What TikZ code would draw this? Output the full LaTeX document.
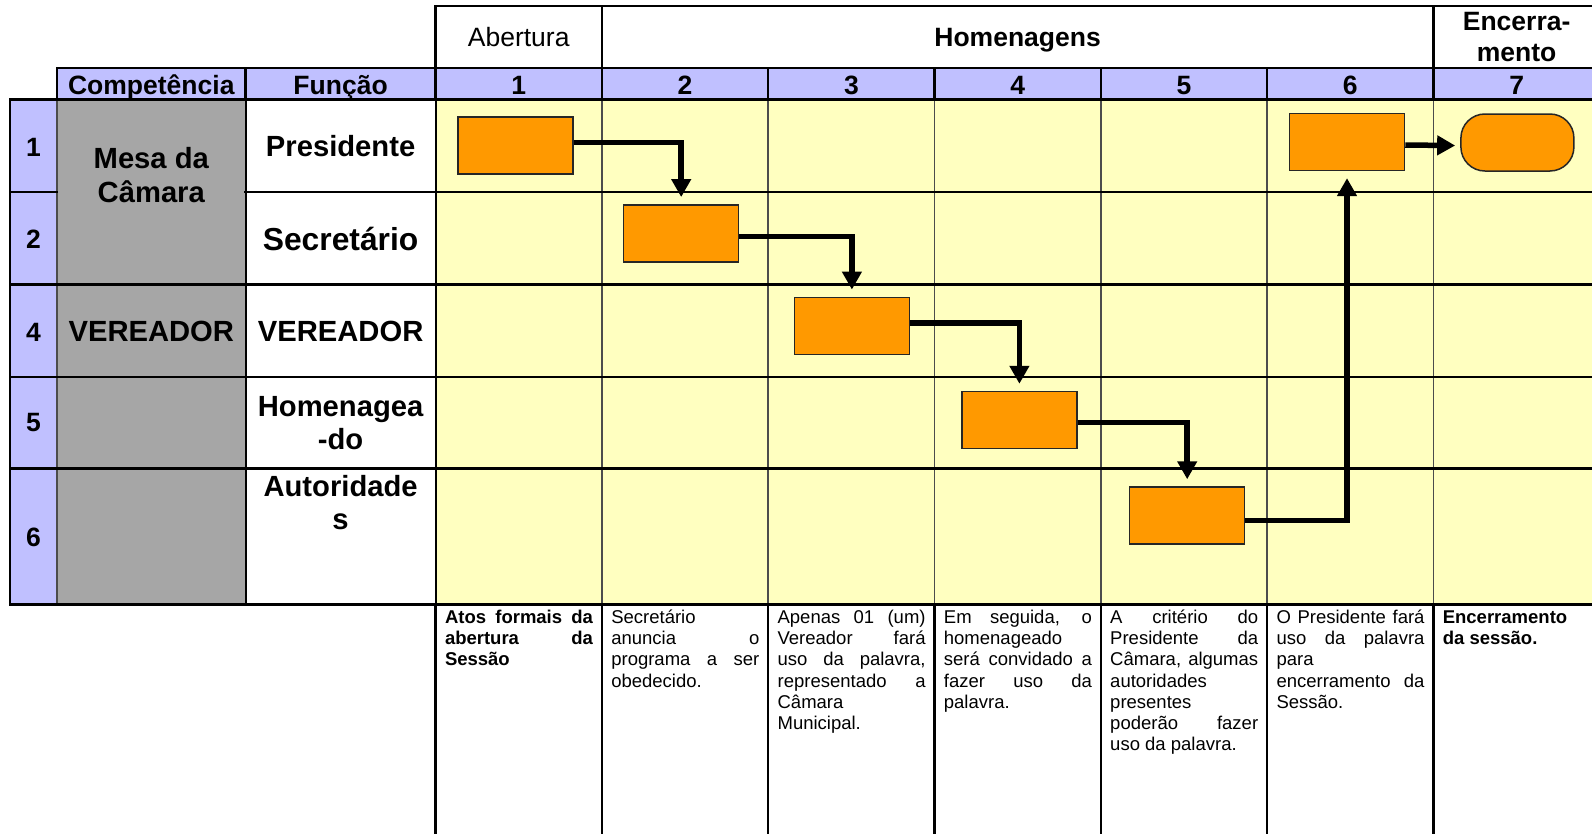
\documentclass[tikz,border=0pt]{standalone}
\usepackage{fontspec}
\setmainfont{Liberation Sans}
\usetikzlibrary{arrows.meta}
\definecolor{laranja}{HTML}{FF9900}
\definecolor{amarelo}{HTML}{FFFFC0}
\definecolor{lilas}{HTML}{C0C0FF}
\definecolor{cinza}{HTML}{A6A6A6}
\newcommand{\capstrut}{\rule{0pt}{1em}}
\tolerance=10000
\hbadness=10000
\hyphenpenalty=10000
\begin{document}
\begin{tikzpicture}[x=1pt, y=-1pt]
	\tikzset{
	>={Triangle[length=18pt, width=19pt]}, % solid arrow heads
	every node/.style={inner sep=0pt},
	tarefa/.style={draw=black!85, line width=1.5pt, fill=laranja, minimum width=115pt, minimum height=57pt}, % orange task boxes
	fluxo/.style={->, line width=5.5pt, shorten >=7pt},
	grade/.style={line width=2.5pt, line cap=rect},
	fina/.style={line width=1.5pt, draw=black!70},
	cab/.style={font=\bfseries\fontsize{26.5}{31}\selectfont, anchor=base},
	func/.style={font=\bfseries\fontsize{29.2}{33.4}\selectfont, anchor=base},
	desc/.style={font=\fontsize{18.5}{21.2}\selectfont, text width=148pt, align=justify, anchor=north west}
	}
	\clip (0,0) rectangle (1592,833);
	% cell fills
	\fill[lilas] (56.9,68.1) rectangle (1600,99.6);
	\fill[lilas] (10.2,99.6) rectangle (56.9,604.5);
	\fill[cinza] (56.9,99.6) rectangle (245.7,604.5);
	\fill[amarelo] (435.6,99.6) rectangle (1600,604.5);

	% body lines
	\draw[fina] (56.9,99.6) -- (56.9,604.5);
	\draw[fina] (601.9,99.6) -- (601.9,604.5) (768.2,99.6) -- (768.2,604.5) (934.5,99.6) -- (934.5,604.5)
	      (1100.8,99.6) -- (1100.8,604.5) (1267.1,99.6) -- (1267.1,604.5) (1433.4,99.6) -- (1433.4,604.5);
	\draw[grade] (10.2,99.6) -- (10.2,604.5);
	\draw[grade, line width=2pt] (245.7,99.6) -- (245.7,604.5) (435.6,99.6) -- (435.6,604.5);
	\draw[grade] (10.2,192) -- (56.9,192) (245.7,192) -- (1600,192);
	\draw[grade] (10.2,284.5) -- (1600,284.5);
	\draw[grade] (10.2,376.9) -- (1600,376.9);
	\draw[grade] (10.2,468.3) -- (1600,468.3);

	% header lines
	\draw[grade] (435.6,6.1) -- (1600,6.1);
	\draw[grade] (56.9,68.1) -- (1600,68.1);
	\draw[grade] (10.2,99.6) -- (1600,99.6);
	\draw[grade] (435.6,6.1) -- (435.6,99.6) (601.9,6.1) -- (601.9,99.6) (1433.4,6.1) -- (1433.4,99.6);
	\draw[grade] (56.9,68.1) -- (56.9,99.6) (245.7,68.1) -- (245.7,99.6) (768.2,68.1) -- (768.2,99.6)
	      (934.5,68.1) -- (934.5,99.6) (1100.8,68.1) -- (1100.8,99.6) (1267.1,68.1) -- (1267.1,99.6);

	% description lines
	\draw[grade] (10.2,604.5) -- (1600,604.5);
	\draw[grade] (435.6,604.5) -- (435.6,840) (601.9,604.5) -- (601.9,840) (768.2,604.5) -- (768.2,840)
	      (934.5,604.5) -- (934.5,840) (1100.8,604.5) -- (1100.8,840) (1267.1,604.5) -- (1267.1,840)
	      (1433.4,604.5) -- (1433.4,840);

	% top headers
	\node[cab, font=\fontsize{26.5}{31}\selectfont] (abertura) at (518.7,46.7) {Abertura};
	\node[cab] (homenagens) at (1017.6,46.7) {Homenagens};
	\node[cab, align=center, anchor=north] (encerramento) at (1516.6,4.2) {\capstrut Encerra-\\mento};
	\node[cab] (competencia) at (151.3,94) {Competência};
	\node[cab] (funcao) at (340.6,94) {Função};
	\node[cab] (c1) at (518.7,94) {1};
	\node[cab] (c2) at (685.1,94) {2};
	\node[cab] (c3) at (851.4,94) {3};
	\node[cab] (c4) at (1017.7,94) {4};
	\node[cab] (c5) at (1184,94) {5};
	\node[cab] (c6) at (1350.3,94) {6};
	\node[cab] (c7) at (1516.6,94) {7};

	% lanes
	\node[cab] (l1) at (33.5,156.7) {1};
	\node[cab] (l2) at (33.5,248.3) {2};
	\node[cab] (l4) at (33.5,341.7) {4};
	\node[cab] (l5) at (33.5,431.7) {5};
	\node[cab] (l6) at (33.5,546.7) {6};
	\node[func, align=center, anchor=north, font=\bfseries\fontsize{29.2}{34.4}\selectfont] (mesa) at (151.3,139.1) {\capstrut Mesa da\\Câmara};
	\node[func] (presidente) at (340.6,156.7) {Presidente};
	\node[func, font=\bfseries\fontsize{31.8}{36}\selectfont] (secretario) at (340.6,250) {Secretário};
	\node[func] (vereadorc) at (151.3,341.7) {VEREADOR};
	\node[func] (vereador) at (340.6,341.7) {VEREADOR};
	\node[func, align=center, anchor=north] (homenageado) at (340.6,386.8) {\capstrut Homenagea\\-do};
	\node[func, align=center, anchor=north] (autoridades) at (340.6,466.8) {\capstrut Autoridade\\s};

	% flow
	\node[tarefa] (t1) at (515.5,145.5) {};
	\node[tarefa] (t2) at (681.2,233.3) {};
	\node[tarefa] (t3) at (851.9,325.8) {};
	\node[tarefa] (t4) at (1019.4,420) {};
	\node[tarefa] (t5) at (1187.2,515.5) {};
	\node[tarefa] (t6) at (1347,141.9) {};
	\node[tarefa, rounded corners=24pt, minimum width=113pt] (fim) at (1517.4,142.5) {};
	\draw[fluxo] ([yshift=3.2pt]t1.east) -| (t2.north);
	\draw[fluxo] ([yshift=-3.4pt]t2.east) -| (t3.north);
	\draw[fluxo] ([yshift=2.7pt]t3.east) -| (t4.north);
	\draw[fluxo] ([yshift=-2.7pt]t4.east) -| (t5.north);
	\draw[fluxo] ([yshift=-5.2pt]t5.east) -| (t6.south);
	\draw[fluxo, shorten >=5pt] ([yshift=-3.1pt]t6.east) -- ([yshift=-3.1pt]fim.west);

	% descriptions
	\node[desc] (d1) at (444.8,604.8) {\bfseries\capstrut Atos formais da\linebreak abertura da\linebreak Sessão};
	\node[desc] (d2) at (611.1,604.8) {\capstrut Secretário\newline anuncia o\linebreak programa a ser\linebreak obedecido.};
	\node[desc] (d3) at (777.4,604.8) {\capstrut Apenas 01 (um)\linebreak Vereador fará\linebreak uso da palavra,\linebreak representado a\linebreak Câmara\newline Municipal.};
	\node[desc] (d4) at (943.7,604.8) {\capstrut Em seguida, o\linebreak homenageado\newline será convidado a\linebreak fazer uso da\linebreak palavra.};
	\node[desc] (d5) at (1110,604.8) {\capstrut A critério do\linebreak Presidente da\linebreak Câmara, algumas\linebreak autoridades\newline presentes\newline poderão fazer\linebreak uso da palavra.};
	\node[desc] (d6) at (1276.3,604.8) {\capstrut O Presidente fará\linebreak uso da palavra\linebreak para\newline encerramento da\linebreak Sessão.};
	\node[desc] (d7) at (1442.6,604.8) {\bfseries\capstrut Encerramento\newline da sessão.};
\end{tikzpicture}
\end{document}
